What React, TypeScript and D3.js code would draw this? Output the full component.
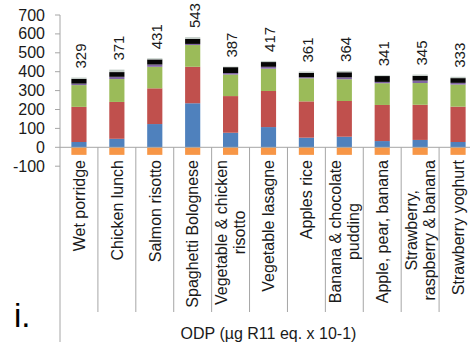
import React from "react";
import * as d3 from "d3";

// Meal names (a "\n" splits a label onto two lines)
const categories = [
  "Wet porridge",
  "Chicken lunch",
  "Salmon risotto",
  "Spaghetti Bolognese",
  "Vegetable & chicken\nrisotto",
  "Vegetable lasagne",
  "Apples rice",
  "Banana & chocolate\npudding",
  "Apple, pear, banana",
  "Strawberry,\nraspberry & banana",
  "Strawberry yoghurt",
];

// Net totals printed above each column
const totals = [329, 371, 431, 543, 387, 417, 361, 364, 341, 345, 333];

// Stacked contributions, bottom to top
const ingredients = [28, 45, 123, 233, 77, 107, 51, 56, 33, 39, 28];
const processing = [186, 195, 189, 193, 194, 191, 192, 189, 191, 186, 187];
const packaging = [115, 121, 114, 115, 114, 118, 122, 115, 115, 115, 117];
const distribution = [8, 12, 12, 6, 8, 10, 6, 10, 7, 13, 9];
const retail = [25, 25, 27, 27, 31, 25, 23, 27, 31, 25, 25];
const consumption = [7, 13, 6, 9, 3, 6, 7, 7, 4, 7, 7];
// Credits below zero
const endOfLife = [-40, -40, -40, -40, -40, -40, -40, -40, -40, -40, -40];

const yTicks = [-100, 0, 100, 200, 300, 400, 500, 600, 700];

const keys = [
  "ingredients",
  "processing",
  "packaging",
  "distribution",
  "retail",
  "consumption",
  "endOfLife",
];
const colors: Record<string, string> = {
  ingredients: "#4F81BD",
  processing: "#C0504D",
  packaging: "#9BBB59",
  distribution: "#8064A2",
  retail: "#050505",
  consumption: "#C3CDC7",
  endOfLife: "#F79646",
};

const FONT = "'Liberation Sans', Arial, sans-serif";

const rows = categories.map((c, i) => ({
  name: c,
  ingredients: ingredients[i],
  processing: processing[i],
  packaging: packaging[i],
  distribution: distribution[i],
  retail: retail[i],
  consumption: consumption[i],
  endOfLife: endOfLife[i],
}));

let measureCtx: CanvasRenderingContext2D | null = null;
function textWidth(s: string, size: number) {
  if (!measureCtx) {
    const c = document.createElement("canvas");
    measureCtx = c.getContext("2d");
  }
  if (!measureCtx) return s.length * size * 0.5;
  measureCtx.font = `${size}px "Liberation Sans", Arial, sans-serif`;
  return measureCtx.measureText(s).width;
}

export default function App() {
  const W = 470;
  const H = 350;
  const plotLeft = 60;
  const plotRight = 477;
  const yTop = 15;
  const yBottom = 166.2;

  const x = d3
    .scaleBand<string>()
    .domain(categories)
    .range([plotLeft, plotRight])
    .paddingInner(0.6)
    .paddingOuter(0.3);
  const y = d3.scaleLinear().domain([-100, 700]).range([yBottom, yTop]);

  const stack = d3
    .stack<any>()
    .keys(keys)
    .offset(d3.stackOffsetDiverging);
  const series = stack(rows);

  const step = x.step();
  const labelTop = 160;
  const catFont = 16;
  const lineGap = 18;
  const gray = "#A6A6A6";

  return (
    <svg
      width={W}
      height={H}
      style={{ position: "absolute", left: 0, top: 0, background: "#fff" }}
      fontFamily={FONT}
    >
      {/* stacked columns */}
      {series.map((s) => (
        <g key={s.key} fill={colors[s.key]}>
          {s.map((d, i) => (
            <rect
              key={i}
              x={x(categories[i])}
              width={x.bandwidth()}
              y={y(Math.max(d[0], d[1]))}
              height={Math.abs(y(d[0]) - y(d[1]))}
            />
          ))}
        </g>
      ))}

      {/* zero line */}
      <line x1={plotLeft} x2={plotRight} y1={y(0)} y2={y(0)} stroke={gray} strokeWidth={1} />

      {/* value axis */}
      <line x1={plotLeft} x2={plotLeft} y1={y(700)} y2={342} stroke={gray} strokeWidth={1} />
      {yTicks.map((t) => (
        <g key={t}>
          <line x1={plotLeft - 5} x2={plotLeft} y1={y(t)} y2={y(t)} stroke={gray} />
          <text
            x={45}
            y={y(t)}
            textAnchor="end"
            dominantBaseline="central"
            fontSize={16}
            fill="#1a1a1a"
          >
            {t}
          </text>
        </g>
      ))}

      {/* category separators */}
      {categories.map((c, i) =>
        i === 0 ? null : (
          <line
            key={c}
            x1={plotLeft + step * i}
            x2={plotLeft + step * i}
            y1={y(0)}
            y2={312}
            stroke={gray}
          />
        )
      )}

      {/* total labels */}
      {categories.map((c, i) => {
        const top = y(d3.sum(keys.slice(0, 6), (k) => (rows[i] as any)[k]));
        const cx = (x(c) as number) + x.bandwidth() / 2 + 1.5;
        return (
          <text
            key={c}
            transform={`translate(${cx},${top - 9}) rotate(-90)`}
            textAnchor="start"
            dy="0.36em"
            fontSize={15}
            fill="#1a1a1a"
          >
            {totals[i]}
          </text>
        );
      })}

      {/* category labels */}
      {categories.map((c) => {
        const lines = c.split("\n");
        const cx = (x(c) as number) + x.bandwidth() / 2;
        const maxW = d3.max(lines, (l) => textWidth(l, catFont)) as number;
        const cy = labelTop + maxW / 2;
        return lines.map((l, j) => {
          const lx = cx + (j - (lines.length - 1) / 2) * lineGap;
          return (
            <text
              key={c + j}
              transform={`translate(${lx},${cy}) rotate(-90)`}
              textAnchor="middle"
              dy="0.36em"
              fontSize={catFont}
              fill="#1a1a1a"
            >
              {l}
            </text>
          );
        });
      })}

      {/* axis title */}
      <text
        x={(plotLeft + plotRight) / 2}
        y={333}
        textAnchor="middle"
        dominantBaseline="central"
        fontSize={16}
        fill="#1a1a1a"
      >
        ODP (µg R11 eq. x 10-1)
      </text>

      {/* panel letter */}
      <text x={14} y={327} fontSize={33} fill="#000">
        i.
      </text>
    </svg>
  );
}
